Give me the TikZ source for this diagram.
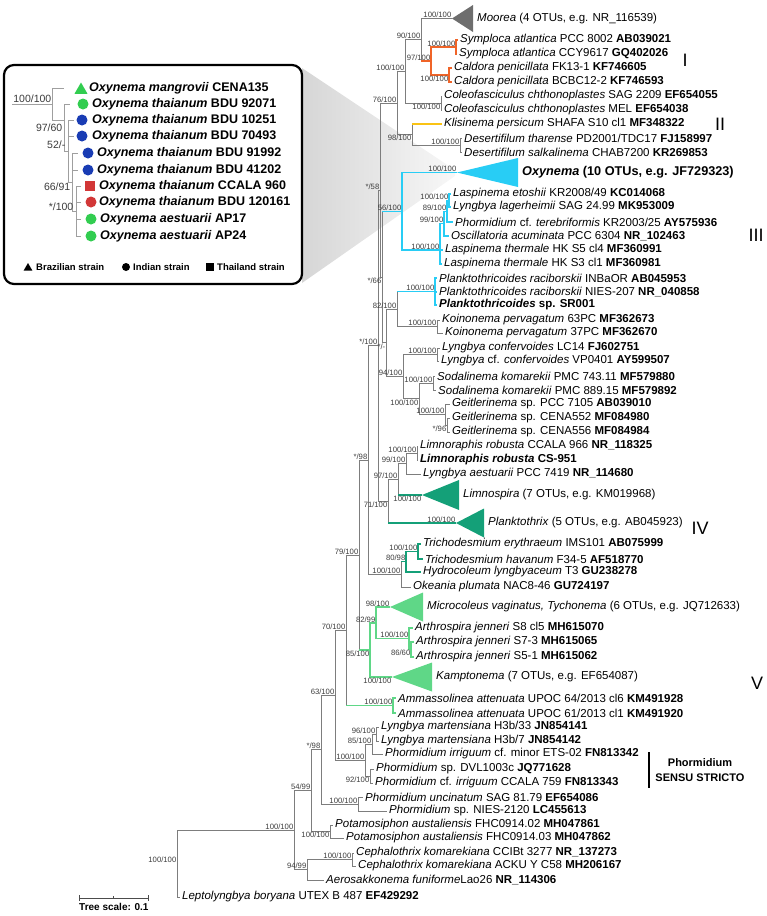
\documentclass[tikz,border=0pt]{standalone}
\usepackage{fontspec}
\setmainfont{Liberation Sans}
\usetikzlibrary{positioning,shapes.geometric,calc}
\definecolor{treegray}{RGB}{125,125,125}
\definecolor{bsgray}{RGB}{60,60,60}
\definecolor{cladeone}{RGB}{240,100,40}
\definecolor{cladetwo}{RGB}{250,195,20}
\definecolor{cladethree}{RGB}{40,205,245}
\definecolor{cladefour}{RGB}{20,160,120}
\definecolor{cladefive}{RGB}{95,215,135}
\definecolor{mooreagray}{RGB}{110,110,110}
\definecolor{brgreen}{RGB}{50,205,80}
\definecolor{inblue}{RGB}{25,60,180}
\definecolor{thred}{RGB}{210,55,55}
\tikzset{
  branch/.style={draw=treegray,line width=0.9pt},
  colbranch/.style={draw=#1,line width=1.4pt},
  minibranch/.style={draw=gray!75,line width=1pt},
  leaf/.style={anchor=west,inner xsep=2pt,inner ysep=0pt,font=\fontsize{11.5}{13}\selectfont},
  bigleaf/.style={leaf,font=\fontsize{12.7}{14}\selectfont\bfseries},
  bs/.style={anchor=south east,inner sep=0.5pt,text=bsgray,font=\fontsize{7.7}{8}\selectfont},
  bsb/.style={bs,anchor=north east},
  ibs/.style={anchor=east,inner sep=0.5pt,text=bsgray,font=\fontsize{10.5}{11}\selectfont},
  strainlbl/.style={anchor=west,inner sep=0pt,font=\fontsize{12.5}{14}\selectfont\bfseries},
  legendlbl/.style={anchor=west,inner sep=0pt,font=\fontsize{9.5}{10}\selectfont\bfseries},
  dotsym/.style={circle,fill=#1,minimum size=11pt,inner sep=0pt},
  trisym/.style={regular polygon,regular polygon sides=3,fill=#1,minimum size=15pt,inner sep=0pt},
  sqsym/.style={rectangle,fill=#1,minimum size=10pt,inner sep=0pt},
  cladenum/.style={inner sep=0pt,font=\fontsize{18}{20}\selectfont}
}
\begin{document}
\begin{tikzpicture}[x=1pt,y=-1pt]
\useasboundingbox (0,0) rectangle (767,916);

\shade[left color=black!16,right color=black!3] (302,68) -- (455,170) -- (455,176) -- (302,283) -- cycle;
\draw[line width=2.2pt,rounded corners=10pt,fill=white] (4,65) rectangle (302,284);

% inset tree
\coordinate (i0) at (12,104);
\coordinate (iR) at (52,104);
\coordinate (i97) at (64,120);
\coordinate (i52) at (68,151);
\coordinate (i66) at (72,182);
\coordinate (i100) at (76,211);
\coordinate (m1) at (64,88);
\coordinate (m2) at (70,104);
\coordinate (m3) at (74,120);
\coordinate (m4) at (74,136);
\coordinate (m5) at (78,153);
\coordinate (m6) at (78,170);
\coordinate (m7) at (81,186);
\coordinate (m8) at (81,202);
\coordinate (m9) at (81,219);
\coordinate (m10) at (81,236);
\draw[minibranch] (i0) -- (iR) (iR) |- (m1) (iR) |- (i97) (i97) |- (m2) (i97) |- (i52)
  (i52) |- (m3) (i52) |- (m4) (i52) |- (i66) (i66) |- (m5) (i66) |- (m6) (i66) |- (i100)
  (i100) |- (m7) (i100) |- (m8) (i100) |- (m9) (i100) |- (m10);
\node[ibs,anchor=south east] (ibR) at (52,103) {100/100};
\node[ibs] (ib97) at (63,128) {97/60};
\node[ibs] (ib52) at (66,145) {52/-};
\node[ibs] (ib66) at (71,187) {66/91};
\node[ibs] (ib100) at (74,207) {*/100};

\node[trisym=brgreen] (s1) at (81,90) {};
\node[dotsym=brgreen] (s2) at (83,104) {};
\node[dotsym=inblue] (s3) at (82,120) {};
\node[dotsym=inblue] (s4) at (82,136) {};
\node[dotsym=inblue] (s5) at (88,153) {};
\node[dotsym=inblue] (s6) at (88,170) {};
\node[sqsym=thred] (s7) at (90,186) {};
\node[dotsym=thred] (s8) at (91,202) {};
\node[dotsym=brgreen] (s9) at (91,219) {};
\node[dotsym=brgreen] (s10) at (91,236) {};
\node[strainlbl] (l1) at (89,88) {\textit{Oxynema mangrovii} CENA135};
\node[strainlbl] (l2) at (92,104) {\textit{Oxynema thaianum} BDU 92071};
\node[strainlbl] (l3) at (92,120) {\textit{Oxynema thaianum} BDU 10251};
\node[strainlbl] (l4) at (92,136) {\textit{Oxynema thaianum} BDU 70493};
\node[strainlbl] (l5) at (97,153) {\textit{Oxynema thaianum} BDU 91992};
\node[strainlbl] (l6) at (97,170) {\textit{Oxynema thaianum} BDU 41202};
\node[strainlbl] (l7) at (99,186) {\textit{Oxynema thaianum} CCALA 960};
\node[strainlbl] (l8) at (99,202) {\textit{Oxynema thaianum} BDU 120161};
\node[strainlbl] (l9) at (100,219) {\textit{Oxynema aestuarii} AP17};
\node[strainlbl] (l10) at (100,236) {\textit{Oxynema aestuarii} AP24};

\node[trisym=black,minimum size=10pt] (gtri) at (28,268) {};
\node[legendlbl] (gbra) at (36,267) {Brazilian strain};
\node[dotsym=black,minimum size=8pt] (gdot) at (126,267) {};
\node[legendlbl] (gind) at (133,267) {Indian strain};
\node[sqsym=black,minimum size=7.5pt] (gsq) at (210,267) {};
\node[legendlbl] (gtha) at (217,267) {Thailand strain};

% main tree, internal nodes
\coordinate (nMoo) at (452,18.5);
\coordinate (nSym) at (456,47);
\coordinate (nCal) at (449,75);
\coordinate (n97a) at (431,61);
\coordinate (n90) at (421,39.75);
\coordinate (nCol) at (441,103);
\coordinate (n100a) at (405,71.4);
\coordinate (nDes) at (460,145);
\coordinate (n98a) at (412,134.5);
\coordinate (n76) at (397,103);
\coordinate (nOxy) at (457,172.5);
\coordinate (nLe) at (449,200.5);
\coordinate (n89) at (447,211.25);
\coordinate (n99a) at (444,223.6);
\coordinate (n100b) at (440,250);
\coordinate (n56) at (402,211.25);
\coordinate (nPla) at (435,291.5);
\coordinate (nKoi) at (437,326.5);
\coordinate (n82a) at (397,309);
\coordinate (nLc) at (437,354.5);
\coordinate (nSod) at (433,383);
\coordinate (nG96) at (447,425);
\coordinate (nGei) at (445,414.5);
\coordinate (nS) at (419,398.75);
\coordinate (n94a) at (403,376.6);
\coordinate (nStar) at (386,342.8);
\coordinate (n66) at (382,277);
\coordinate (n58) at (380,190);
\coordinate (nLr) at (417,453);
\coordinate (n99b) at (406,463.5);
\coordinate (nLim) at (422,495);
\coordinate (n97b) at (398,479);
\coordinate (nPlk) at (456,523);
\coordinate (n71) at (388,501);
\coordinate (n100c) at (378,345.5);
\coordinate (nTr) at (418,551.5);
\coordinate (n80) at (406,561.75);
\coordinate (nTO) at (401,574.4);
\coordinate (n98b) at (368,460);
\coordinate (nMic) at (390,607);
\coordinate (nA86) at (411,649.5);
\coordinate (nArt) at (409,638.75);
\coordinate (n82b) at (376,622.9);
\coordinate (nKam) at (392,677);
\coordinate (n85a) at (370,650);
\coordinate (n79) at (359,555);
\coordinate (nAm) at (393,705.5);
\coordinate (n70) at (346,630.25);
\coordinate (nLm) at (376,734);
\coordinate (n85b) at (372,744);
\coordinate (nDV) at (370,776);
\coordinate (nF) at (365,760);
\coordinate (n63) at (335,695);
\coordinate (nUn) at (358,804);
\coordinate (nD) at (321,749.5);
\coordinate (nPot) at (330,831.5);
\coordinate (n54) at (311,790.5);
\coordinate (nCe) at (352,859.5);
\coordinate (n94b) at (307,869.75);
\coordinate (nA) at (294,830);
\coordinate (nRoot) at (177,863.5);

% leaves
\node[leaf] (t1) at (475,18.5) {\textit{Moorea} (4 OTUs, e.g. NR\_116539)};
\node[leaf] (t2) at (458,40) {\textit{Symploca atlantica} PCC 8002 \textbf{AB039021}};
\node[leaf] (t3) at (457,54) {\textit{Symploca atlantica} CCY9617 \textbf{GQ402026}};
\node[leaf] (t4) at (452,68) {\textit{Caldora penicillata} FK13-1 \textbf{KF746605}};
\node[leaf] (t5) at (452,82) {\textit{Caldora penicillata} BCBC12-2 \textbf{KF746593}};
\node[leaf] (t6) at (442,96) {\textit{Coleofasciculus chthonoplastes} SAG 2209 \textbf{EF654055}};
\node[leaf] (t7) at (442,110) {\textit{Coleofasciculus chthonoplastes} MEL \textbf{EF654038}};
\node[leaf] (t8) at (442,124) {\textit{Klisinema persicum} SHAFA S10 cl1 \textbf{MF348322}};
\node[leaf] (t9) at (462,138) {\textit{Desertifilum tharense} PD2001/TDC17 \textbf{FJ158997}};
\node[leaf] (t10) at (462,152) {\textit{Desertifilum salkalinema} CHAB7200 \textbf{KR269853}};
\node[bigleaf] (t11) at (520,172.5) {\textit{Oxynema} (10 OTUs, e.g. JF729323)};
\node[leaf] (t12) at (451,194) {\textit{Laspinema etoshii} KR2008/49 \textbf{KC014068}};
\node[leaf] (t13) at (451,207) {\textit{Lyngbya lagerheimii} SAG 24.99 \textbf{MK953009}};
\node[leaf] (t14) at (453,222) {\textit{Phormidium} cf. \textit{terebriformis} KR2003/25 \textbf{AY575936}};
\node[leaf] (t15) at (449,236) {\textit{Oscillatoria acuminata} PCC 6304 \textbf{NR\_102463}};
\node[leaf] (t16) at (443,250) {\textit{Laspinema thermale} HK S5 cl4 \textbf{MF360991}};
\node[leaf] (t17) at (442,264) {\textit{Laspinema thermale} HK S3 cl1 \textbf{MF360981}};
\node[leaf] (t18) at (437,278) {\textit{Planktothricoides raciborskii} INBaOR \textbf{AB045953}};
\node[leaf] (t19) at (437,292) {\textit{Planktothricoides raciborskii} NIES-207 \textbf{NR\_040858}};
\node[leaf] (t20) at (437,305) {\textbf{\textit{Planktothricoides} sp. SR001}};
\node[leaf] (t21) at (440,320) {\textit{Koinonema pervagatum} 63PC \textbf{MF362673}};
\node[leaf] (t22) at (443,333) {\textit{Koinonema pervagatum} 37PC \textbf{MF362670}};
\node[leaf] (t23) at (440,348) {\textit{Lyngbya confervoides} LC14 \textbf{FJ602751}};
\node[leaf] (t24) at (439,361) {\textit{Lyngbya} cf. \textit{confervoides} VP0401 \textbf{AY599507}};
\node[leaf] (t25) at (435,376) {\textit{Sodalinema komarekii} PMC 743.11 \textbf{MF579880}};
\node[leaf] (t26) at (436,390) {\textit{Sodalinema komarekii} PMC 889.15 \textbf{MF579892}};
\node[leaf] (t27) at (450,404) {\textit{Geitlerinema} sp. PCC 7105 \textbf{AB039010}};
\node[leaf] (t28) at (450,418) {\textit{Geitlerinema} sp. CENA552 \textbf{MF084980}};
\node[leaf] (t29) at (450,432) {\textit{Geitlerinema} sp. CENA556 \textbf{MF084984}};
\node[leaf] (t30) at (418,446) {\textit{Limnoraphis robusta} CCALA 966 \textbf{NR\_118325}};
\node[leaf] (t31) at (418,460) {\textbf{\textit{Limnoraphis robusta} CS-951}};
\node[leaf] (t32) at (421,474) {\textit{Lyngbya aestuarii} PCC 7419 \textbf{NR\_114680}};
\node[leaf] (t33) at (461,495) {\textit{Limnospira} (7 OTUs, e.g. KM019968)};
\node[leaf] (t34) at (486,523) {\textit{Planktothrix} (5 OTUs, e.g. AB045923)};
\node[leaf] (t35) at (421,544) {\textit{Trichodesmium erythraeum} IMS101 \textbf{AB075999}};
\node[leaf] (t36) at (423,559) {\textit{Trichodesmium havanum} F34-5 \textbf{AF518770}};
\node[leaf] (t37) at (421,572) {\textit{Hydrocoleum lyngbyaceum} T3 \textbf{GU238278}};
\node[leaf] (t38) at (411,587) {\textit{Okeania plumata} NAC8-46 \textbf{GU724197}};
\node[leaf] (t39) at (425,607) {\textit{Microcoleus vaginatus, Tychonema} (6 OTUs, e.g. JQ712633)};
\node[leaf] (t40) at (413,628) {\textit{Arthrospira jenneri} S8 cl5 \textbf{MH615070}};
\node[leaf] (t41) at (414,642) {\textit{Arthrospira jenneri} S7-3 \textbf{MH615065}};
\node[leaf] (t42) at (414,657) {\textit{Arthrospira jenneri} S5-1 \textbf{MH615062}};
\node[leaf] (t43) at (434,677) {\textit{Kamptonema} (7 OTUs, e.g. EF654087)};
\node[leaf] (t44) at (396,698) {\textit{Ammassolinea attenuata} UPOC 64/2013 cl6 \textbf{KM491928}};
\node[leaf] (t45) at (396,713) {\textit{Ammassolinea attenuata} UPOC 61/2013 cl1 \textbf{KM491920}};
\node[leaf] (t46) at (379,727) {\textit{Lyngbya martensiana} H3b/33 \textbf{JN854141}};
\node[leaf] (t47) at (379,741) {\textit{Lyngbya martensiana} H3b/7 \textbf{JN854142}};
\node[leaf] (t48) at (383,754) {\textit{Phormidium irriguum} cf. minor ETS-02 \textbf{FN813342}};
\node[leaf] (t49) at (374,769) {\textit{Phormidium} sp. DVL1003c \textbf{JQ771628}};
\node[leaf] (t50) at (373,783) {\textit{Phormidium} cf. \textit{irriguum} CCALA 759 \textbf{FN813343}};
\node[leaf] (t51) at (363,797) {\textit{Phormidium uncinatum} SAG 81.79 \textbf{EF654086}};
\node[leaf] (t52) at (387,811) {\textit{Phormidium} sp. NIES-2120 \textbf{LC455613}};
\node[leaf] (t53) at (333,825) {\textit{Potamosiphon austaliensis} FHC0914.02 \textbf{MH047861}};
\node[leaf] (t54) at (344,838) {\textit{Potamosiphon austaliensis} FHC0914.03 \textbf{MH047862}};
\node[leaf] (t55) at (354,853) {\textit{Cephalothrix komarekiana} CCIBt 3277 \textbf{NR\_137273}};
\node[leaf] (t56) at (356,866) {\textit{Cephalothrix komarekiana} ACKU Y C58 \textbf{MH206167}};
\node[leaf] (t57) at (324,880) {\textit{Aerosakkonema funiforme}Lao26 \textbf{NR\_114306}};
\node[leaf] (t58) at (180,897) {\textit{Leptolyngbya boryana} UTEX B 487 \textbf{EF429292}};

% branches
\draw[branch]
  (nRoot) |- (nA) (nRoot) |- (t58.west)
  (nA) |- (n54) (nA) |- (n94b)
  (n94b) |- (nCe) (n94b) |- (t57.west) (nCe) |- (t55.west) (nCe) |- (t56.west)
  (n54) |- (nD) (n54) |- (nPot) (nPot) |- (t53.west) (nPot) |- (t54.west)
  (nD) |- (n63) (nD) |- (nUn) (nUn) |- (t51.west) (nUn) |- (t52.west)
  (n63) |- (n70) (n63) |- (nF)
  (nF) |- (n85b) (nF) |- (nDV) (nDV) |- (t49.west) (nDV) |- (t50.west)
  (n85b) |- (nLm) (n85b) |- (t48.west) (nLm) |- (t46.west) (nLm) |- (t47.west)
  (n70) |- (n79) (n70) |- (nAm)
  (n79) |- (n98b) (n79) |- (n85a)
  (n98b) |- (n100c) (n98b) |- (nTO)
  (nTO) |- (n80) (nTO) |- (t38.west)
  (n100c) |- (n58) (n100c) |- (n71)
  (n71) |- (n97b) (n71) |- (nPlk)
  (n97b) |- (n99b) (n97b) |- (nLim)
  (n99b) |- (nLr) (n99b) |- (t32.west) (nLr) |- (t30.west) (nLr) |- (t31.west)
  (n58) |- (n76) (n58) |- (n66)
  (n66) |- (n56) (n66) |- (nStar)
  (nStar) |- (n82a) (nStar) |- (n94a)
  (n82a) |- (nPla) (n82a) |- (nKoi) (nKoi) |- (t21.west) (nKoi) |- (t22.west)
  (n94a) |- (nLc) (n94a) |- (nS) (nLc) |- (t23.west) (nLc) |- (t24.west)
  (nS) |- (nSod) (nS) |- (nGei) (nSod) |- (t25.west) (nSod) |- (t26.west)
  (nGei) |- (t27.west) (nGei) |- (nG96) (nG96) |- (t28.west) (nG96) |- (t29.west)
  (n76) |- (n100a) (n76) |- (n98a)
  (n98a) |- (t8.west) (n98a) |- (nDes) (nDes) |- (t9.west) (nDes) |- (t10.west)
  (n100a) |- (n90) (n100a) |- (nCol) (nCol) |- (t6.west) (nCol) |- (t7.west)
  (n90) |- (nMoo) (n90) |- (n97a);
\draw[colbranch=cladeone] (n90 |- n97a) -- (n97a) (n97a) |- (nSym) (n97a) |- (nCal)
  (nSym) |- (t2.west) (nSym) |- (t3.west) (nCal) |- (t4.west) (nCal) |- (t5.west);
\draw[colbranch=cladetwo] (n98a |- t8.west) -- (t8.west);
\draw[colbranch=cladethree] (n66 |- n56) -- (n56) (n56) |- (nOxy) (n56) |- (n100b)
  (n100b) |- (n99a) (n100b) |- (t16.west) (n100b) |- (t17.west)
  (n99a) |- (n89) (n99a) |- (t15.west) (n89) |- (nLe) (n89) |- (t14.west)
  (nLe) |- (t12.west) (nLe) |- (t13.west)
  (n82a |- nPla) -- (nPla) (nPla) |- (t18.west) (nPla) |- (t19.west) (nPla) |- (t20.west);
\draw[colbranch=cladefour] (n97b |- nLim) -- (nLim) (n71 |- nPlk) -- (nPlk)
  (nTO |- n80) -- (n80) (n80) |- (nTr) (n80) |- (t37.west) (nTr) |- (t35.west) (nTr) |- (t36.west);
\draw[colbranch=cladefive] (n79 |- n85a) -- (n85a) (n85a) |- (n82b) (n85a) |- (nKam)
  (n82b) |- (nMic) (n82b) |- (nArt) (nArt) |- (t40.west) (nArt) |- (nA86)
  (nA86) |- (t41.west) (nA86) |- (t42.west)
  (n70 |- nAm) -- (nAm) (nAm) |- (t44.west) (nAm) |- (t45.west);

% collapsed clades
\fill[mooreagray] (nMoo) -- ++(21,-13.5) -- ++(0,27) -- cycle;
\fill[cladethree] (nOxy) -- ++(61,-14.5) -- ++(0,29) -- cycle;
\fill[cladefour] (nLim) -- ++(37,-15) -- ++(0,30) -- cycle;
\fill[cladefour] (nPlk) -- ++(28,-14.5) -- ++(0,29) -- cycle;
\fill[cladefive] (nMic) -- ++(33,-14.5) -- ++(0,29) -- cycle;
\fill[cladefive] (nKam) -- ++(40,-14.5) -- ++(0,29) -- cycle;

% support values
\node[bs] (bMoo) at (nMoo) {100/100};
\node[bs] (b90) at (n90) {90/100};
\node[bs] (b97a) at (n97a) {97/100};
\node[bs] (bSym) at (nSym) {100/100};
\node[bsb] (bCal) at (nCal) {100/100};
\node[bs] (b100a) at (n100a) {100/100};
\node[bsb] (bCol) at (nCol) {100/100};
\node[bs] (b76) at (n76) {76/100};
\node[bsb] (b98a) at (n98a) {98/100};
\node[bs] (bDes) at (nDes) {100/100};
\node[bs] (b58) at (n58) {*/58};
\node[bs] (bOxy) at (nOxy) {100/100};
\node[bs] (b56) at (n56) {56/100};
\node[bs] (bLe) at (nLe) {100/100};
\node[bs] (b89) at (n89) {89/100};
\node[bs] (b99a) at (n99a) {99/100};
\node[bs] (b100b) at (n100b) {100/100};
\node[bsb] (b66) at (n66) {*/66};
\node[bs] (bPla) at (nPla) {100/100};
\node[bs] (b82a) at (n82a) {82/100};
\node[bs] (bKoi) at (nKoi) {100/100};
\node[bs] (b100c) at (n100c) {*/100};
\node[bsb] (bStar) at (nStar) {*/-};
\node[bs] (bLc) at (nLc) {100/100};
\node[bs] (b94a) at (n94a) {94/100};
\node[bs] (bSod) at (nSod) {100/100};
\node[bsb] (bS) at (nS) {100/100};
\node[bs] (bGei) at (nGei) {100/100};
\node[bsb] (bG96) at (nG96) {*/96};
\node[bs] (b98b) at (n98b) {*/98};
\node[bs] (bLr) at (nLr) {100/100};
\node[bs] (b99b) at (n99b) {99/100};
\node[bs] (b97b) at (n97b) {97/100};
\node[bsb] (bLim) at (nLim) {100/100};
\node[bsb] (b71) at (n71) {71/100};
\node[bs] (bPlk) at (nPlk) {100/100};
\node[bs] (b79) at (n79) {79/100};
\node[bs] (bTr) at (nTr) {100/100};
\node[bs] (b80) at (n80) {80/98};
\node[bs] (bTO) at (nTO) {100/100};
\node[bs] (bMic) at (nMic) {98/100};
\node[bs] (b82b) at (n82b) {82/99};
\node[bs] (bArt) at (nArt) {100/100};
\node[bsb] (bA86) at (nA86) {86/60};
\node[bs] (b70) at (n70) {70/100};
\node[bsb] (b85a) at (n85a) {85/100};
\node[bsb] (bKam) at (nKam) {100/100};
\node[bs] (b63) at (n63) {63/100};
\node[bs] (bAm) at (nAm) {100/100};
\node[bs] (bLm) at (nLm) {96/100};
\node[bs] (b85b) at (n85b) {85/100};
\node[bs] (bD) at (nD) {*/98};
\node[bs] (bF) at (nF) {100/100};
\node[bsb] (bDV) at (nDV) {92/100};
\node[bs] (b54) at (n54) {54/99};
\node[bs] (bUn) at (nUn) {100/100};
\node[bs] (bA) at (nA) {100/100};
\node[bsb] (bPot) at (nPot) {100/100};
\node[bs] (bCe) at (nCe) {100/100};
\node[bs] (b94b) at (n94b) {94/99};
\node[bs] (bRoot) at (nRoot) {100/100};

% clade numbers
\node[cladenum] (cI) at (685,60) {I};
\node[cladenum] (cII) at (720,124) {II};
\node[cladenum] (cIII) at (756,235) {III};
\node[cladenum] (cIV) at (700,528) {IV};
\node[cladenum] (cV) at (757,683) {V};

\coordinate (ss1) at (649,752);
\coordinate (ss2) at (649,788);
\draw[line width=1.3pt] (ss1) -- (ss2);
\node[align=center,inner sep=0pt,font=\fontsize{11}{15}\selectfont\bfseries] (sensu) at (700,770.5) {Phormidium\\SENSU STRICTO};

% scale
\coordinate (sc1) at (79,898);
\coordinate (sc2) at (148,898);
\coordinate (scm) at ($(sc1)!0.5!(sc2)$);
\draw[line width=0.9pt,black!70] (sc1) -- (sc2) (sc1) ++(0,-3) -- ++(0,6) (sc2) ++(0,-3) -- ++(0,6)
  (scm) -- ++(0,-2.5);
\node[anchor=north west,inner sep=0pt,font=\fontsize{10}{11}\selectfont\bfseries] (scl) at (79,903) {Tree scale: 0.1};
\end{tikzpicture}
\end{document}
